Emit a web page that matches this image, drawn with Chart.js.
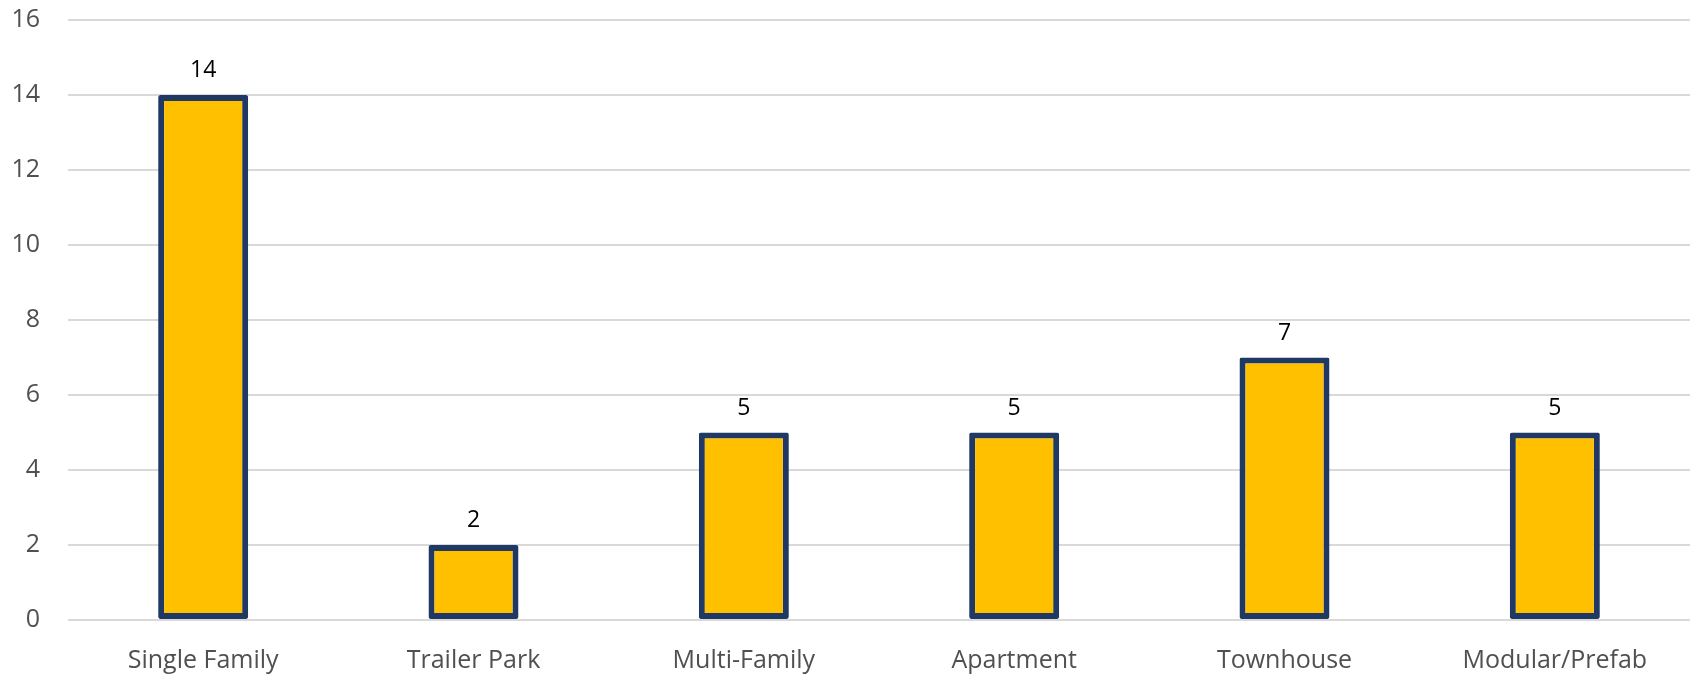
<!DOCTYPE html>
<html>
<head>
<meta charset="utf-8">
<script src="https://cdn.jsdelivr.net/npm/chart.js@4"></script>
<style>
  html, body { margin: 0; padding: 0; background: #ffffff; }
  #wrap { width: 1692px; height: 674px; position: relative; }
</style>
</head>
<body>
<div id="wrap"><canvas id="c"></canvas></div>
<script>
const categories = ['Single Family', 'Trailer Park', 'Multi-Family', 'Apartment', 'Townhouse', 'Modular/Prefab'];
const counts = [14, 2, 5, 5, 7, 5];
const yTicks = [0, 2, 4, 6, 8, 10, 12, 14, 16];

const FONT = '"Open Sans", "Noto Sans", sans-serif';

const valueLabels = {
  id: 'valueLabels',
  afterDatasetsDraw(chart) {
    const ctx = chart.ctx;
    const meta = chart.getDatasetMeta(0);
    ctx.save();
    ctx.font = '23px ' + FONT;
    ctx.fillStyle = '#000000';
    ctx.textAlign = 'center';
    ctx.textBaseline = 'alphabetic';
    meta.data.forEach((bar, i) => {
      ctx.fillText(String(counts[i]), bar.x, bar.y - 18);
    });
    ctx.restore();
  }
};

new Chart(document.getElementById('c'), {
  type: 'bar',
  data: {
    labels: categories,
    datasets: [{
      data: counts,
      backgroundColor: '#FFC000',
      borderColor: '#1F3864',
      borderWidth: 6,
      borderSkipped: false,
      borderRadius: 2,
      categoryPercentage: 1,
      barPercentage: 0.333
    }]
  },
  options: {
    responsive: true,
    maintainAspectRatio: false,
    animation: false,
    devicePixelRatio: 1,
    layout: { padding: { top: 0, right: 2, left: 0, bottom: 0 } },
    plugins: { legend: { display: false }, tooltip: { enabled: false } },
    scales: {
      x: {
        grid: { display: false, drawTicks: false },
        border: { display: false },
        ticks: { color: '#505050', font: { family: FONT, size: 25 }, padding: 26, maxRotation: 0, autoSkip: false },
        afterFit(scale) { scale.height = 54; }
      },
      y: {
        min: 0, max: 16,
        afterBuildTicks(scale) { scale.ticks = yTicks.map(v => ({ value: v })); },
        grid: { color: '#D9D9D9', lineWidth: 2, drawTicks: false },
        border: { display: false },
        ticks: { color: '#505050', font: { family: FONT, size: 25 }, padding: 28 },
        afterFit(scale) { scale.width = 68; scale.paddingTop = 20; scale.paddingBottom = 0; }
      }
    }
  },
  plugins: [valueLabels]
});
</script>
</body>
</html>
